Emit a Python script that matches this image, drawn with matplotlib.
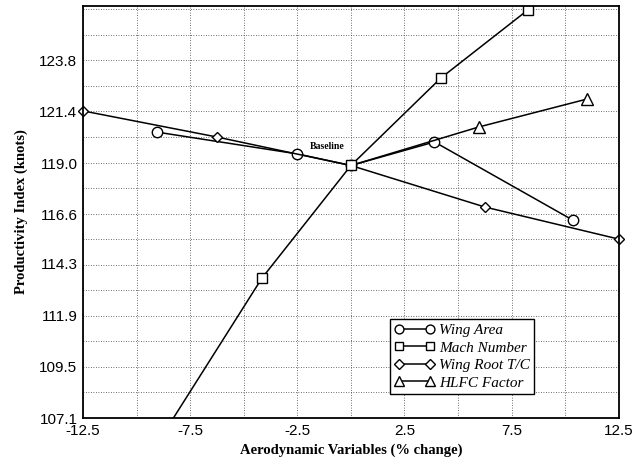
import numpy as np
import matplotlib
matplotlib.use('Agg')
import matplotlib.pyplot as plt

### Data

wing_area_x = [-9.05, -2.5, 0.0, 3.9, 10.35]
wing_area_y = [120.46, 119.44, 118.9, 120.0, 116.35]

mach_x = [-8.6, -4.15, 0.0, 4.2, 8.26]
mach_y = [106.6, 113.64, 118.9, 122.99, 126.17]

root_tc_x = [-12.5, -6.25, 0.0, 6.25, 12.5]
root_tc_y = [121.45, 120.23, 118.9, 116.96, 115.46]

hlfc_x = [0.0, 5.97, 11.0]
hlfc_y = [118.9, 120.7, 122.0]

x_ticks = [-12.5, -7.5, -2.5, 2.5, 7.5, 12.5]
y_ticks = [107.1, 109.5, 111.9, 114.3, 116.6, 119.0, 121.4, 123.8]
y_tick_labels = ['107.1', '109.5', '111.9', '114.3', '116.6', '119.0', '121.4', '123.8']

baseline_label = 'Baseline'
baseline_pos = (-1.9, 119.8)

### Plot

fig = plt.figure(figsize=(6.34, 4.65), dpi=100)
ax = fig.add_axes([0.131, 0.101, 0.845, 0.886])

style = dict(color='black', lw=1.1, mfc='white', mec='black', mew=1.0)
ax.plot(wing_area_x, wing_area_y, marker='o', ms=7.5, label='Wing Area', zorder=3, **style)
ax.plot(root_tc_x, root_tc_y, marker='D', ms=5.5, label='Wing Root T/C', clip_on=False,
        zorder=3, **style)
ax.plot(hlfc_x, hlfc_y, marker='^', ms=8, markevery=[1, 2], label='HLFC Factor', zorder=3, **style)
ax.plot(mach_x, mach_y, marker='s', ms=6.5, label='Mach Number', zorder=4, **style)

ax.text(baseline_pos[0], baseline_pos[1], baseline_label, fontsize=7, fontweight='bold',
        family='Liberation Serif', va='center', ha='left')

ax.set_xlim(-12.5, 12.5)
ax.set_ylim(107.1, 126.35)

ax.set_xticks(x_ticks)
ax.set_xticklabels([str(v) for v in x_ticks], family='Liberation Sans', fontsize=11)
ax.set_yticks(y_ticks)
ax.set_yticklabels(y_tick_labels, family='Liberation Sans', fontsize=11)
ax.tick_params(length=0, pad=4)

# dotted grid, every 2.5 in x, every half step in y
for gx in np.arange(-12.5, 12.6, 2.5):
   ax.axvline(gx, color='0.25', lw=0.6, ls=(0, (1, 2)), zorder=0)
for gy in np.linspace(107.1, 126.2, 17):
   ax.axhline(gy, color='0.25', lw=0.6, ls=(0, (1, 2)), zorder=0)

for s in ax.spines.values():
   s.set_linewidth(1.3)
   s.set_zorder(5)

ax.set_xlabel('Aerodynamic Variables (% change)', family='Liberation Serif',
              fontweight='bold', fontsize=10.5, labelpad=4)
ax.set_ylabel('Productivity Index (knots)', family='Liberation Serif',
              fontweight='bold', fontsize=10.5, labelpad=8)

# legend in the same order as the reference
handles, labels = ax.get_legend_handles_labels()
order = ['Wing Area', 'Mach Number', 'Wing Root T/C', 'HLFC Factor']
handles = [handles[labels.index(o)] for o in order]
leg = ax.legend(handles, order, loc='lower left', bbox_to_anchor=(0.573, 0.058), borderaxespad=0,
                numpoints=2, fancybox=False, framealpha=1, edgecolor='black',
                prop=dict(family='Liberation Serif', style='italic', size=11),
                handlelength=2.6, handletextpad=0.3, labelspacing=0.25,
                borderpad=0.3, markerscale=0.85)
leg.get_frame().set_linewidth(1.0)
leg.set_zorder(6)

plt.savefig('out.png', dpi=100)
plt.close()
